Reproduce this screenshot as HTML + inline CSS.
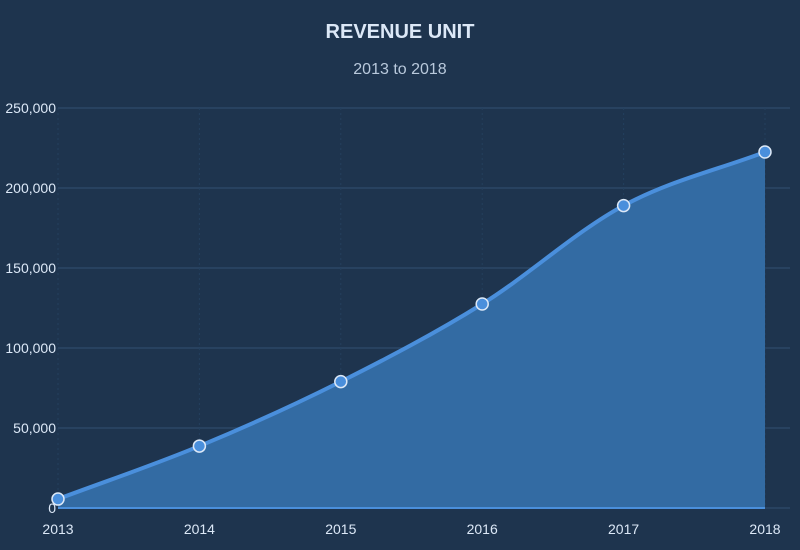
<!DOCTYPE html>
<html><head><meta charset="utf-8"><style>
html,body{margin:0;padding:0;background:#1e344e;}
svg{display:block;font-family:"Liberation Sans",sans-serif;}
</style></head><body>
<svg id="chart" width="800" height="550">
<rect width="800" height="550" fill="#1e344e"/>
<text x="400" y="38" text-anchor="middle" fill="#dce8f7" font-size="20" font-weight="bold">REVENUE UNIT</text>
<text x="400" y="74" text-anchor="middle" fill="#b9c9dc" font-size="16">2013 to 2018</text>
<g id="grid"></g><g id="area"></g><g id="axes"></g>
</svg>
<script>
const categories=["2013","2014","2015","2016","2017","2018"];
const values=[5600,38700,79000,127500,189000,222500];
const yTicks=[0,50000,100000,150000,200000,250000];
const yTickLabels=["0","50,000","100,000","150,000","200,000","250,000"];
const NS="http://www.w3.org/2000/svg";
const x0=58,x1=765,yb=508,yt=108,ymax=250000;
function xs(i){return x0+(x1-x0)*i/(categories.length-1);}
function ys(v){return yb-(yb-yt)*v/ymax;}
function mk(t,a,p){const e=document.createElementNS(NS,t);for(const k in a)e.setAttribute(k,a[k]);p.appendChild(e);return e;}
const grid=document.getElementById('grid'),axes=document.getElementById('axes'),area=document.getElementById('area');
yTicks.forEach((v,i)=>{
 const l=mk('line',{x1:x0,x2:790,y1:ys(v),y2:ys(v),stroke:'#2b4766','stroke-width':1.5},grid);
 
 
 const t=mk('text',{x:x0-2,y:ys(v)+5,'text-anchor':'end',fill:'#dce8f7','font-size':14},axes);
 t.textContent=yTickLabels[i];
 
 
});
categories.forEach((c,i)=>{
 const l=mk('line',{x1:xs(i),x2:xs(i),y1:yt,y2:yb,stroke:'#24405e','stroke-width':1,'stroke-dasharray':'2,3'},grid);
 
 
 const t=mk('text',{x:xs(i),y:534,'text-anchor':'middle',fill:'#dce8f7','font-size':14},axes);
 t.textContent=c;
 
 
});
// monotone cubic
const P=values.map((v,i)=>[xs(i),ys(v)]);
const n=P.length,d=[],m=[];
for(let i=0;i<n-1;i++)d.push((P[i+1][1]-P[i][1])/(P[i+1][0]-P[i][0]));
for(let i=0;i<n;i++){if(i==0)m.push(d[0]);else if(i==n-1)m.push(d[n-2]);else m.push(d[i-1]*d[i]<=0?0:(d[i-1]+d[i])/2);}
let path=`M${P[0][0]},${P[0][1]}`;
for(let i=0;i<n-1;i++){const h=(P[i+1][0]-P[i][0])/3;path+=` C${P[i][0]+h},${P[i][1]+m[i]*h} ${P[i+1][0]-h},${P[i+1][1]-m[i+1]*h} ${P[i+1][0]},${P[i+1][1]}`;}
const fill=mk('path',{d:path+` L${P[n-1][0]},${yb} L${P[0][0]},${yb} Z`,fill:'#336ba3'},area);


const line=mk('path',{d:path,fill:'none',stroke:'#4a8fdc','stroke-width':4},area);


const base=mk('line',{x1:x0,x2:x1,y1:yb,y2:yb,stroke:'#4a8fdc','stroke-width':2},area);


P.forEach((p,i)=>{
 const c=mk('circle',{cx:p[0],cy:p[1],r:6,fill:'#4a8fdc',stroke:'#dce8f7','stroke-width':1.5},area);
 
 
});
</script>
</body></html>
